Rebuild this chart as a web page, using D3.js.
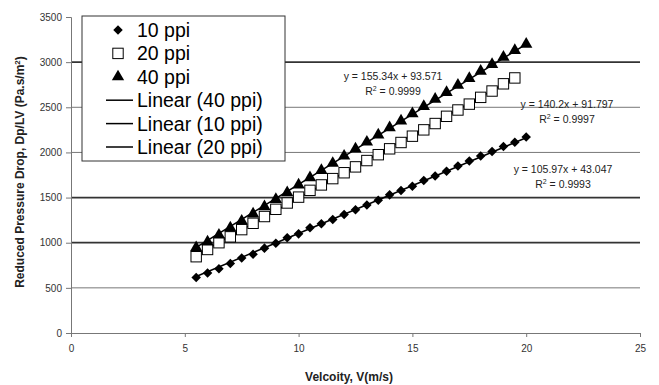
<!DOCTYPE html>
<html><head><meta charset="utf-8">
<script src="https://cdn.jsdelivr.net/npm/d3@7"></script>
<style>body{margin:0;background:#fff}svg{display:block}</style>
</head><body><svg id="c" width="659" height="385"></svg>
<script>
const velocity10 = [5.5,6,6.5,7,7.5,8,8.5,9,9.5,10,10.5,11,11.5,12,12.5,13,13.5,14,14.5,15,15.5,16,16.5,17,17.5,18,18.5,19,19.5,20];
const ppi10 = [615,665,712,770,830,872,940,995,1055,1098,1165,1210,1258,1312,1365,1418,1470,1530,1578,1625,1690,1740,1792,1850,1905,1960,2010,2065,2112,2170];
const velocity20 = [5.5,6,6.5,7,7.5,8,8.5,9,9.5,10,10.5,11,11.5,12,12.5,13,13.5,14,14.5,15,15.5,16,16.5,17,17.5,18,18.5,19,19.5];
const ppi20 = [845,925,1000,1065,1145,1215,1290,1370,1440,1505,1580,1640,1710,1775,1840,1910,1975,2040,2110,2180,2250,2320,2400,2470,2535,2610,2680,2760,2825];
const velocity40 = [5.5,6,6.5,7,7.5,8,8.5,9,9.5,10,10.5,11,11.5,12,12.5,13,13.5,14,14.5,15,15.5,16,16.5,17,17.5,18,18.5,19,19.5,20];
const ppi40 = [945,1010,1085,1165,1240,1320,1400,1480,1555,1640,1720,1800,1880,1960,2040,2115,2195,2275,2350,2430,2510,2590,2665,2745,2820,2900,2975,3055,3130,3200];
const trendNames = ["40 ppi","10 ppi","20 ppi"];
const slopes = {"10 ppi":105.97,"20 ppi":140.2,"40 ppi":155.34};
const intercepts = {"10 ppi":43.047,"20 ppi":91.797,"40 ppi":93.571};
const eqLabels = {"10 ppi":["y = 105.97x + 43.047","0.9993"],"20 ppi":["y = 140.2x + 91.797","0.9997"],"40 ppi":["y = 155.34x + 93.571","0.9999"]};
const xTicks = [0,5,10,15,20,25];
const yTicks = [0,500,1000,1500,2000,2500,3000,3500];

const series = [
  {name:"10 ppi", xs:velocity10, ys:ppi10, sym:"diamond"},
  {name:"20 ppi", xs:velocity20, ys:ppi20, sym:"square"},
  {name:"40 ppi", xs:velocity40, ys:ppi40, sym:"triangle"}
];

const svg = d3.select("#c");
const L=71, R=640, T=17, B=333;
const x = d3.scaleLinear().domain([0,25]).range([L,R]);
const y = d3.scaleLinear().domain([0,3500]).range([B,T]);
const font = "Liberation Sans, Arial, sans-serif";

// gridlines
const darkGrid = new Set([1000,1500,3000]);
svg.append("g").selectAll("line").data(yTicks.filter(v=>v>0 && v<3500)).join("line")
  .attr("x1",L).attr("x2",R).attr("y1",d=>y(d)).attr("y2",d=>y(d))
  .attr("stroke",d=>darkGrid.has(d)?"#333":"#777")
  .attr("stroke-width",d=>darkGrid.has(d)?1.8:1);

// axes
const yAxis = svg.append("g").attr("transform",`translate(${L},0)`)
  .call(d3.axisLeft(y).tickValues(yTicks).tickSize(5).tickPadding(4).tickFormat(d3.format("d")));
const xAxis = svg.append("g").attr("transform",`translate(0,${B})`)
  .call(d3.axisBottom(x).tickValues(xTicks).tickSize(4).tickPadding(8).tickFormat(d3.format("d")));
[yAxis,xAxis].forEach(a=>{
  a.select(".domain").attr("stroke","#777");
  a.selectAll(".tick line").attr("stroke","#777");
  a.selectAll("text").attr("font-family",font).attr("font-size",10).attr("fill","#333");
});

// trend lines
trendNames.forEach(n=>{
  const s = series.find(d=>d.name===n);
  const x0 = d3.min(s.xs), x1 = d3.max(s.xs);
  svg.append("line")
    .attr("x1",x(x0)).attr("y1",y(slopes[n]*x0+intercepts[n]))
    .attr("x2",x(x1)).attr("y2",y(slopes[n]*x1+intercepts[n]))
    .attr("stroke","#000").attr("stroke-width",1.5);
});

function drawSym(g, sym, cx, cy, k){
  if(sym==="diamond"){
    g.append("path").attr("d",d3.symbol(d3.symbolDiamond2, 58*k)()).attr("transform",`translate(${cx},${cy})`).attr("fill","#000");
  } else if(sym==="square"){
    const h = 5.2*Math.sqrt(k);
    g.append("rect").attr("x",cx-h).attr("y",cy-h).attr("width",2*h).attr("height",2*h)
      .attr("fill","#fff").attr("stroke","#000").attr("stroke-width",1);
  } else {
    g.append("path").attr("d",d3.symbol(d3.symbolTriangle, 66*k)()).attr("transform",`translate(${cx},${cy})`).attr("fill","#000");
  }
}

// markers
series.forEach(s=>{
  const g = svg.append("g");
  s.xs.forEach((v,i)=>drawSym(g, s.sym, x(v), y(s.ys[i]), 1));
});

// equation labels
const eqPos = {"40 ppi":[393,80],"20 ppi":[567,108],"10 ppi":[563,173]};
Object.keys(eqLabels).forEach(n=>{
  const [cx,cy] = eqPos[n];
  svg.append("text").attr("x",cx).attr("y",cy).attr("text-anchor","middle")
    .attr("font-family",font).attr("font-size",10.5).attr("fill","#222").text(eqLabels[n][0]);
  const t2 = svg.append("text").attr("x",cx).attr("y",cy+15).attr("text-anchor","middle")
    .attr("font-family",font).attr("font-size",10.5).attr("fill","#222");
  t2.append("tspan").text("R");
  t2.append("tspan").attr("dy",-4).attr("font-size",7).text("2");
  t2.append("tspan").attr("dy",4).text(" = "+eqLabels[n][1]);
});

// legend
const lg = svg.append("g");
lg.append("rect").attr("x",82).attr("y",16).attr("width",203).attr("height",145)
  .attr("fill","#fff").attr("stroke","#333").attr("stroke-width",1);
const items = series.map(s=>({label:s.name, sym:s.sym})).concat(trendNames.map(n=>({label:"Linear ("+n+")", sym:"line"})));
items.forEach((it,i)=>{
  const cy = 30 + i*23.4;
  if(it.sym==="line"){
    lg.append("line").attr("x1",106).attr("x2",133).attr("y1",cy).attr("y2",cy).attr("stroke","#000").attr("stroke-width",1.5);
  } else {
    drawSym(lg, it.sym, 118, cy, 1.0);
  }
  lg.append("text").attr("x",137).attr("y",cy+7).attr("font-family",font).attr("font-size",19.5).attr("fill","#000").text(it.label);
});

// axis titles
svg.append("text").attr("x",349).attr("y",381).attr("text-anchor","middle")
  .attr("font-family",font).attr("font-weight","bold").attr("font-size",12).attr("fill","#222").text("Velcoity, V(m/s)");
const yt = svg.append("text").attr("transform","translate(24,172) rotate(-90)").attr("text-anchor","middle")
  .attr("font-family",font).attr("font-weight","bold").attr("font-size",12).attr("fill","#222");
yt.append("tspan").text("Reduced Pressure Drop,  Dp/LV (Pa.s/m");
yt.append("tspan").attr("dy",-4).attr("font-size",8).text("2");
yt.append("tspan").attr("dy",4).text(")");
</script></body></html>
